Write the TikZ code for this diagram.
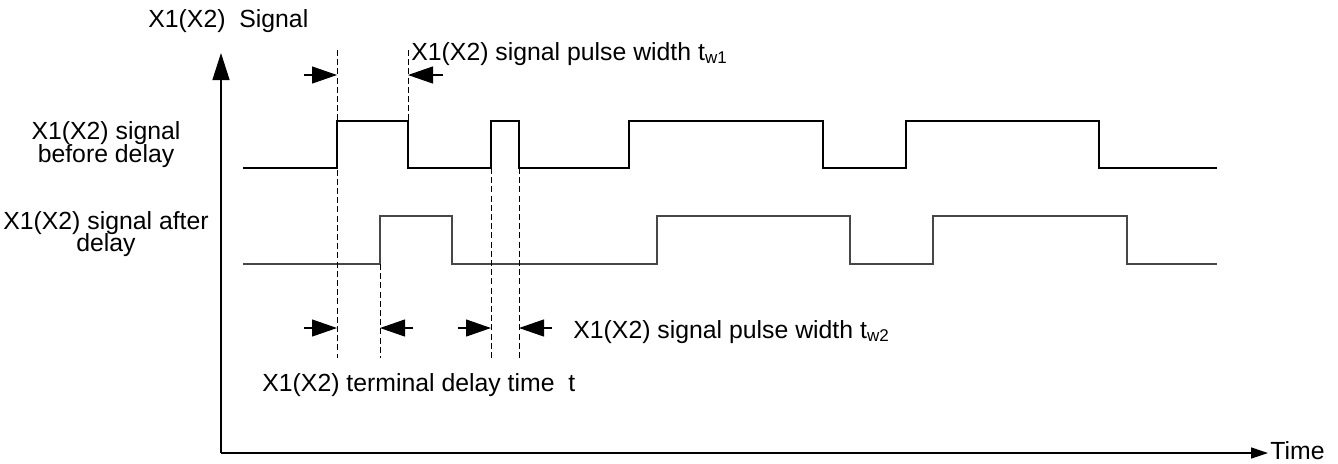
\documentclass[tikz,border=0pt]{standalone}
\usepackage{fontspec}
\setmainfont{Liberation Sans}
\usetikzlibrary{arrows.meta}
\newcommand{\subtxt}[1]{\raisebox{-0.3ex}{\fontsize{8.5}{8.5}\selectfont #1}}
\begin{document}
\begin{tikzpicture}[x=0.5pt,y=-0.5pt,
  sig/.style={line width=0.7pt, black},
  sigb/.style={line width=0.7pt, black!72},
  guide/.style={line width=0.5pt, dash pattern=on 3pt off 1.6pt},
  dimarrow/.style={line width=0.55pt, -{Triangle[length=12.5pt,width=8.5pt]}},
  lbl/.style={font=\fontsize{12.4}{11}\selectfont, inner sep=0pt},
]
\useasboundingbox (0,0) rectangle (1338,463);
% axes
\coordinate (O) at (221,453);
\coordinate (ytip) at (221,53);
\coordinate (xtip) at (1268,453);
\draw[line width=0.7pt, -{Triangle[length=13.5pt,width=8.5pt]}] (O) -- (ytip);
\draw[line width=0.7pt, -{Triangle[length=8.5pt,width=5.5pt]}] (O) -- (xtip);
\node[lbl, anchor=west] (time) at (1270,451) {Time};
\node[lbl, anchor=base west] (ylab) at (148,27) {X1(X2)\ \ Signal};
% left labels
\node[lbl, anchor=base] (bd1) at (106,139) {X1(X2) signal};
\node[lbl, anchor=base] (bd2) at (106,162) {before delay};
\node[lbl, anchor=base] (ad1) at (106,229) {X1(X2) signal after};
\node[lbl, anchor=base] (ad2) at (106,251) {delay};
% signals
\draw[sig] (243,168) -- (337,168) -- (337,121) -- (408,121) -- (408,168) -- (491,168) -- (491,121) -- (519,121) -- (519,168) -- (629,168) -- (629,121) -- (823,121) -- (823,168) -- (906,168) -- (906,121) -- (1099,121) -- (1099,168) -- (1217,168);
\draw[sigb] (243,264) -- (380,264) -- (380,216) -- (452,216) -- (452,264) -- (657,264) -- (657,216) -- (850,216) -- (850,264) -- (933,264) -- (933,216) -- (1127,216) -- (1127,264) -- (1217,264);
% guide coordinates
\coordinate (g1t) at (337,50);  \coordinate (g1b) at (337,358);
\coordinate (g2t) at (408,50);  \coordinate (g2b) at (408,121);
\coordinate (g3t) at (380,264); \coordinate (g3b) at (380,358);
\coordinate (g4t) at (491,168); \coordinate (g4b) at (491,358);
\coordinate (g5t) at (519,168); \coordinate (g5b) at (519,358);
\draw[guide] (g1t) -- (g1b);
\draw[guide] (g2t) -- (g2b);
\draw[guide] (g3t) -- (g3b);
\draw[guide] (g4t) -- (g4b);
\draw[guide] (g5t) -- (g5b);
% dimension arrows
\coordinate (a1s) at (304,75); \coordinate (a1e) at (337,75);
\coordinate (a2s) at (443,75); \coordinate (a2e) at (408,75);
\coordinate (b1s) at (304,328); \coordinate (b1e) at (337,328);
\coordinate (b2s) at (413,328); \coordinate (b2e) at (380,328);
\coordinate (b3s) at (458,328); \coordinate (b3e) at (491,328);
\coordinate (b4s) at (552,328); \coordinate (b4e) at (519,328);
\draw[dimarrow] (a1s) -- (a1e);
\draw[dimarrow] (a2s) -- (a2e);
\draw[dimarrow] (b1s) -- (b1e);
\draw[dimarrow] (b2s) -- (b2e);
\draw[dimarrow] (b3s) -- (b3e);
\draw[dimarrow] (b4s) -- (b4e);
% annotation texts
\node[lbl, anchor=base west] (tw1) at (411,60) {X1(X2) signal pulse width t\subtxt{w1}};
\node[lbl, anchor=base west] (tw2) at (573,338) {X1(X2) signal pulse width t\subtxt{w2}};
\node[lbl, anchor=base west] (td) at (262,391) {X1(X2) terminal delay time\ \ t};
\end{tikzpicture}
\end{document}
